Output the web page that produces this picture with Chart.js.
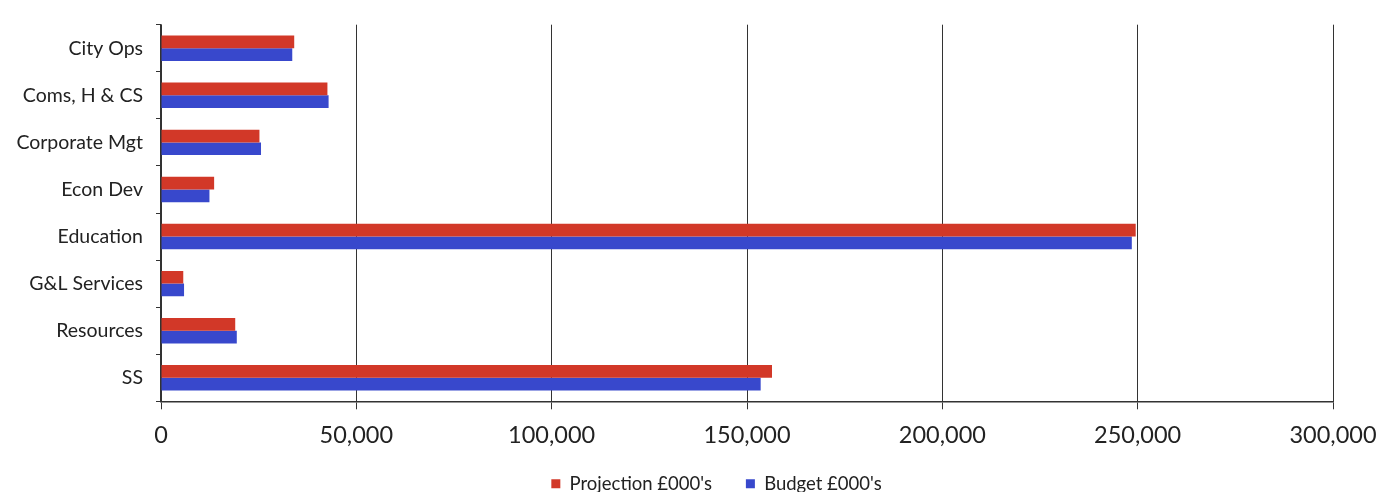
<!DOCTYPE html>
<html>
<head>
<meta charset="utf-8">
<script src="https://cdn.jsdelivr.net/npm/chart.js@4/dist/chart.umd.min.js"></script>
<style>
  html, body { margin: 0; padding: 0; background: #fff; }
  #wrap { width: 1379px; height: 492px; }
</style>
</head>
<body>
<div id="wrap"><canvas id="myChart" width="1379" height="492"></canvas></div>
<script>
// Departments and values (£000's)
const departments = ['City Ops', 'Coms, H & CS', 'Corporate Mgt', 'Econ Dev', 'Education', 'G&L Services', 'Resources', 'SS'];
const projection = [34100, 42600, 25200, 13600, 249500, 5700, 19000, 156400];
const budget = [33600, 42900, 25600, 12400, 248500, 5900, 19400, 153500];
const xTicks = [0, 50000, 100000, 150000, 200000, 250000, 300000];

// legend sits a little right of centre in the original;
// x axis box is squeezed, so let its labels spill below it
const tweakLayout = {
    id: 'tweakLayout',
    afterLayout(chart) {
        chart.legend.left += 46;
        chart.legend.right += 46;
        chart.scales.x.bottom += 30;
    }
};

const ctx = document.getElementById('myChart').getContext('2d');
const myChart = new Chart(ctx, {
    type: 'bar',
    data: {
        labels: departments,
        datasets: [{
            label: "Projection £000's",
            data: projection,
            backgroundColor: 'rgb(210, 56, 40)',
            barPercentage: 1,
            categoryPercentage: 0.54
        }, {
            label: "Budget £000's",
            data: budget,
            backgroundColor: 'rgb(56, 72, 204)',
            barPercentage: 1,
            categoryPercentage: 0.54
        }]
    },
    options: {
        indexAxis: 'y',
        responsive: false,
        animation: false,
        layout: { padding: { left: 8, right: 46, top: 23, bottom: -11 } },
        scales: {
            x: {
                min: 0,
                max: 300000,
                afterBuildTicks: function(scale) {
                    scale.ticks = xTicks.map(v => ({ value: v }));
                },
                afterFit: function(scale) {
                    scale.height -= 21;
                    scale.paddingRight = 0;
                },
                grid: { color: '#333', lineWidth: 1, tickLength: 8 },
                border: { color: '#333', width: 1.5 },
                ticks: {
                    color: '#222',
                    font: { family: 'Lato', size: 23.5 },
                    padding: 12,
                    maxRotation: 0,
                    callback: v => v.toLocaleString('en-GB')
                }
            },
            y: {
                afterFit: function(scale) { scale.width = 153; },
                grid: { display: true, drawOnChartArea: false, offset: true, tickLength: 5, color: '#333' },
                border: { color: '#333', width: 1.5 },
                ticks: {
                    color: '#222',
                    font: { family: 'Lato', size: 19.5 },
                    padding: 13
                }
            }
        },
        plugins: {
            legend: {
                position: 'bottom',
                labels: {
                    color: '#222',
                    font: { family: 'Lato', size: 18.5 },
                    boxWidth: 9,
                    boxHeight: 9,
                    padding: 34
                }
            },
            tooltip: { enabled: false }
        }
    },
    plugins: [tweakLayout]
});
</script>
</body>
</html>
